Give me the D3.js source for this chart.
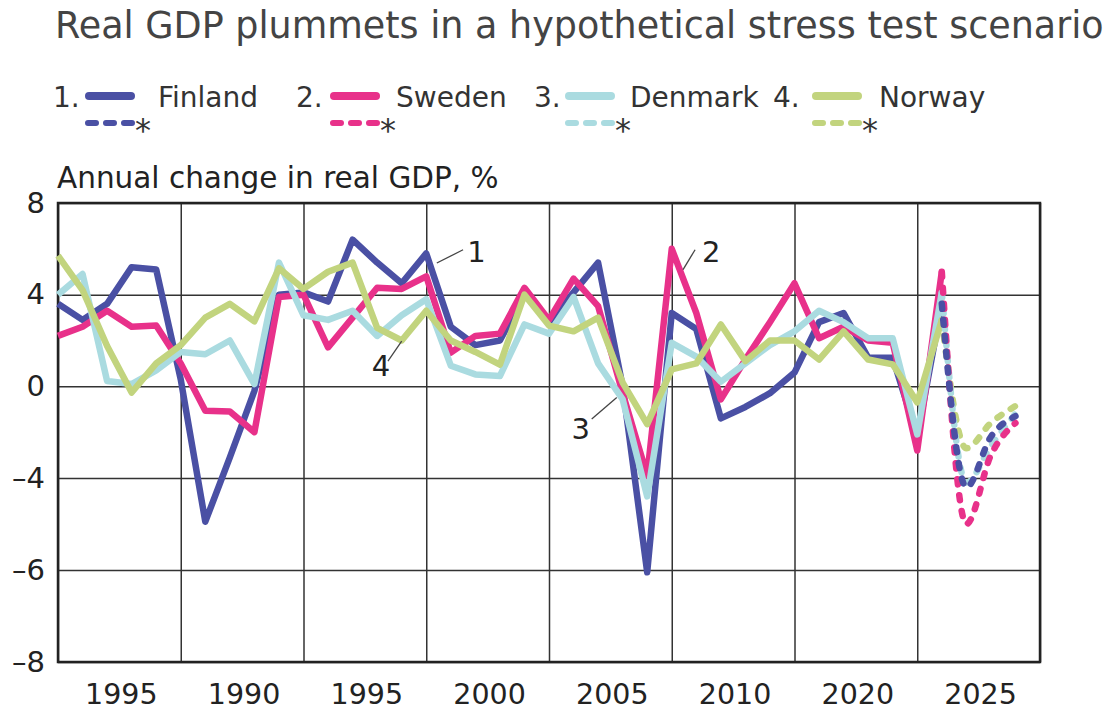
<!DOCTYPE html>
<html>
<head>
<meta charset="utf-8">
<script src="https://cdn.jsdelivr.net/npm/d3@7"></script>
<style>
  body { margin: 0; background: #fff; }
  svg { display: block; font-family: "DejaVu Sans", sans-serif; }
</style>
</head>
<body>
<svg width="1115" height="712"></svg>
<script>
// annual change in real GDP, %, 1985-2021
const years = d3.range(1985, 2022);
const finland = [3.6, 2.9, 3.6, 5.2, 5.1, 0.3, -4.95, -3.1, -0.2, 4.0, 4.1, 3.7, 6.4, 5.4, 4.5, 5.8, 2.6, 1.8, 2.0, 4.0,
  2.8, 4.1, 5.4, 0.0, -6.05, 3.2, 2.5, -1.4, -0.9, -0.3, 0.6, 2.8, 3.2, 1.25, 1.25, -2.2, 3.6];
const sweden = [2.2, 2.6, 3.3, 2.6, 2.65, 1.0, -1.07, -1.1, -2.0, 3.9, 4.0, 1.7, 3.0, 4.3, 4.25, 4.8, 1.47, 2.2, 2.3, 4.3,
  2.9, 4.7, 3.5, -0.3, -3.9, 6.0, 3.2, -0.57, 1.17, 2.8, 4.5, 2.1, 2.6, 2.0, 1.9, -2.8, 5.0];
const denmark = [4.0, 4.9, 0.23, 0.1, 0.7, 1.5, 1.4, 2.0, 0.1, 5.4, 3.1, 2.9, 3.3, 2.2, 3.1, 3.8, 0.9, 0.52, 0.45, 2.7,
  2.3, 3.9, 1.0, -0.57, -4.4, 1.9, 1.3, 0.2, 1.0, 1.8, 2.4, 3.3, 2.8, 2.1, 2.1, -2.1, 4.1];
const norway = [5.7, 4.2, 1.76, -0.27, 1.0, 1.8, 3.0, 3.6, 2.84, 5.15, 4.25, 5.0, 5.4, 2.55, 2.0, 3.3, 2.0, 1.5, 0.95, 4.0,
  2.65, 2.4, 3.0, 0.16, -1.65, 0.74, 1.0, 2.7, 1.1, 2.0, 2.0, 1.17, 2.4, 1.17, 0.96, -0.7, 2.9];

// stress test scenario (dashed)
const scenarioYears = [2021, 2022, 2023, 2024];
const finlandScenario = [3.6, -4.2, -2.2, -1.3];
const swedenScenario = [5.0, -5.0, -3.0, -1.6];
const denmarkScenario = [4.1, -4.1, -2.6, -1.2];
const norwayScenario = [2.9, -2.7, -1.6, -0.86];

const countries = ['Finland', 'Sweden', 'Denmark', 'Norway'];
const colors = ['#4a50a4', '#e8318a', '#aadbe0', '#c2d47e'];
const yTicks = [8, 4, 0, -4, -6, -8];
const gridYears = d3.range(1985, 2026, 5);
const xLabels = ['1995', '1990', '1995', '2000', '2005', '2010', '2020', '2025'];

// annotation anchors: [label, leader from (year, value), leader to, text at]
const notes = [
  ['1', [2000.43, 5.38], [2001.5, 5.96], [2001.67, 5.43]],
  ['2', [2010.46, 5.09], [2010.95, 5.96], [2011.23, 5.43]],
  ['3', [2006.74, -1.43], [2007.76, -0.49], [2005.92, -2.3]],
  ['4', [1998.44, 1.1], [1999.0, 1.97], [1997.78, 0.43]]
];

const svg = d3.select('svg');
const plotL = 58, plotR = 1040, plotT = 203, plotB = 662;

const x = d3.scaleLinear().domain([1985, 2025]).range([plotL, plotR]);
const y = d3.scaleLinear().domain([-8, -6, -4, 8]).range([plotB, 570, 478, plotT]);

// title
svg.append('text')
  .attr('x', 55).attr('y', 38)
  .attr('font-size', 36.5).attr('fill', '#444')
  .text('Real GDP plummets in a hypothetical stress test scenario');

// legend: number x, line x, name x
const legendX = [[53, 85, 158], [296, 330, 396], [534, 565, 630], [773, 812, 879]];
countries.forEach((c, i) => {
  const [nx, lx, tx] = legendX[i];
  const g = svg.append('g').attr('font-size', 28).attr('fill', '#333');
  g.append('text').attr('x', nx).attr('y', 107).text((i + 1) + '.');
  g.append('line').attr('x1', lx + 4).attr('x2', lx + 46).attr('y1', 96).attr('y2', 96)
    .attr('stroke', colors[i]).attr('stroke-width', 8).attr('stroke-linecap', 'round');
  g.append('text').attr('x', tx).attr('y', 107).text(c);
  g.append('line').attr('x1', lx + 3).attr('x2', lx + 47).attr('y1', 123).attr('y2', 123)
    .attr('stroke', colors[i]).attr('stroke-width', 6).attr('stroke-linecap', 'round')
    .attr('stroke-dasharray', '8,10');
  g.append('text').attr('x', lx + 50).attr('y', 141).attr('font-size', 32).text('*');
});

// axis title
svg.append('text')
  .attr('x', 57).attr('y', 188)
  .attr('font-size', 29.5).attr('fill', '#222')
  .text('Annual change in real GDP, %');

// grid
svg.append('g')
  .attr('transform', `translate(0,${plotB})`)
  .call(d3.axisBottom(x).tickValues(gridYears).tickSize(-(plotB - plotT)).tickFormat(''))
  .call(g => g.select('.domain').remove())
  .call(g => g.selectAll('line').attr('stroke', '#333').attr('stroke-width', 1.5));

svg.append('g')
  .attr('transform', `translate(${plotL},0)`)
  .call(d3.axisLeft(y).tickValues(yTicks).tickSize(-(plotR - plotL)).tickPadding(13)
    .tickFormat(d => d < 0 ? '\u2013' + Math.abs(d) : d))
  .call(g => g.select('.domain').remove())
  .call(g => g.selectAll('line').attr('stroke', '#333').attr('stroke-width', 1.5))
  .call(g => g.selectAll('text').attr('font-size', 29).attr('fill', '#222')
    .attr('font-family', '"DejaVu Sans", sans-serif'));

svg.append('rect')
  .attr('x', plotL).attr('y', plotT).attr('width', plotR - plotL).attr('height', plotB - plotT)
  .attr('fill', 'none').attr('stroke', '#222').attr('stroke-width', 2.5);

// x labels sit between the grid lines
svg.append('g').selectAll('text')
  .data(xLabels)
  .join('text')
  .attr('x', (d, i) => x(gridYears[i] + 2.5) + 2)
  .attr('y', 704)
  .attr('text-anchor', 'middle')
  .attr('font-size', 28.5).attr('fill', '#222')
  .text(d => d);

// lines
const line = d3.line().x(d => x(d[0])).y(d => y(d[1]));
const curved = d3.line().x(d => x(d[0])).y(d => y(d[1])).curve(d3.curveMonotoneX);
const actual = [finland, sweden, denmark, norway];
const scenario = [finlandScenario, swedenScenario, denmarkScenario, norwayScenario];

const plot = svg.append('g');
[0, 1, 2, 3].forEach(i => {
  plot.append('path')
    .datum(years.map((yr, k) => [yr, actual[i][k]]))
    .attr('d', line)
    .attr('fill', 'none')
    .attr('stroke', colors[i])
    .attr('stroke-width', 6.5)
    .attr('stroke-linejoin', 'round');
});
[3, 2, 1, 0].forEach(i => {
  plot.append('path')
    .datum(scenarioYears.map((yr, k) => [yr, scenario[i][k]]))
    .attr('d', curved)
    .attr('fill', 'none')
    .attr('stroke', colors[i])
    .attr('stroke-width', 6.5)
    .attr('stroke-linecap', 'round')
    .attr('stroke-dasharray', '5,11');
});

// numbered annotations
notes.forEach(([label, a, b, t]) => {
  svg.append('line')
    .attr('x1', x(a[0])).attr('y1', y(a[1]))
    .attr('x2', x(b[0])).attr('y2', y(b[1]))
    .attr('stroke', '#444').attr('stroke-width', 1.3);
  svg.append('text')
    .attr('x', x(t[0])).attr('y', y(t[1]))
    .attr('font-size', 29).attr('fill', '#222')
    .text(label);
});
</script>
</body>
</html>
